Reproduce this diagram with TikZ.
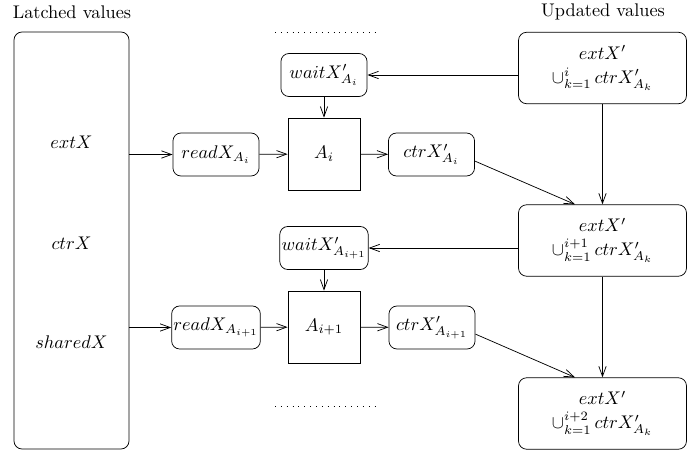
\documentclass[tikz,border=0pt]{standalone}
\usepackage{amssymb}
\usepackage{tikz}
\usetikzlibrary{arrows.meta}

\begin{document}
\begin{tikzpicture}[x=0.546pt,y=-0.546pt,>={Straight Barb[length=5.5pt,width=4pt]},
  valbox/.style={draw,rounded corners=4.4pt,minimum width=47pt,minimum height=23.5pt,inner sep=1pt},
  agent/.style={draw,minimum size=39.3pt},
  updbox/.style={draw,rounded corners=4.4pt,minimum width=91.7pt,minimum height=39pt,align=center}]
\useasboundingbox (0,0) rectangle (688,455);
\node (latchedlbl) at (72,12) {Latched values};
\node (updatedlbl) at (603,12) {Updated values};
\node[draw,rounded corners=4.4pt,minimum width=62.8pt,minimum height=227.7pt] (latched) at (71.5,240.5) {};
\node (ext) at (71.5,142) {$extX$};
\node (ctr) at (71.5,243) {$ctrX$};
\node (shared) at (71.5,342) {$sharedX$};
\node[valbox] (readi) at (216,154.5) {$readX_{A_i}$};
\node[valbox] (readii) at (216,327.5) {$readX_{A_{i+1}}$};
\node[agent] (ai) at (324,154) {$A_i$};
\node[agent] (aii) at (324,327) {$A_{i+1}$};
\node[valbox] (waiti) at (324,75) {$waitX'_{A_i}$};
\node[valbox] (waitii) at (324,248) {$waitX'_{A_{i+1}}$};
\node[valbox] (ctri) at (431.5,154.5) {$ctrX'_{A_i}$};
\node[valbox] (ctrii) at (432,327.5) {$ctrX'_{A_{i+1}}$};
\node[updbox] (upd1) at (602.5,68) {$extX'$\\[1pt]$\cup_{k=1}^{i}\,ctrX'_{A_k}$};
\node[updbox] (upd2) at (602.5,240.5) {$extX'$\\[1pt]$\cup_{k=1}^{i+1}\,ctrX'_{A_k}$};
\node[updbox] (upd3) at (602.5,413.5) {$extX'$\\[1pt]$\cup_{k=1}^{i+2}\,ctrX'_{A_k}$};
\draw[dash pattern=on 0.4pt off 2.8pt] (275,32) -- (375,32);
\draw[dash pattern=on 0.4pt off 2.8pt] (275,406) -- (375,406);
\draw[->] (latched.east |- readi.west) -- (readi);
\draw[->] (latched.east |- readii.west) -- (readii);
\draw[->] (readi) -- (ai);
\draw[->] (readii) -- (aii);
\draw[->] (ai) -- (ctri);
\draw[->] (aii) -- (ctrii);
\draw[->] (waiti) -- (ai);
\draw[->] (waitii) -- (aii);
\draw[->] (upd1.west |- waiti.east) -- (waiti);
\draw[->] (upd2.west |- waitii.east) -- (waitii);
\draw[->] (upd1) -- (upd2);
\draw[->] (upd2) -- (upd3);
\draw[->] ([yshift=-3.6pt]ctri.east) -- ([xshift=-15pt]upd2.north);
\draw[->] ([yshift=-3.6pt]ctrii.east) -- ([xshift=-15pt]upd3.north);
\end{tikzpicture}
\end{document}
